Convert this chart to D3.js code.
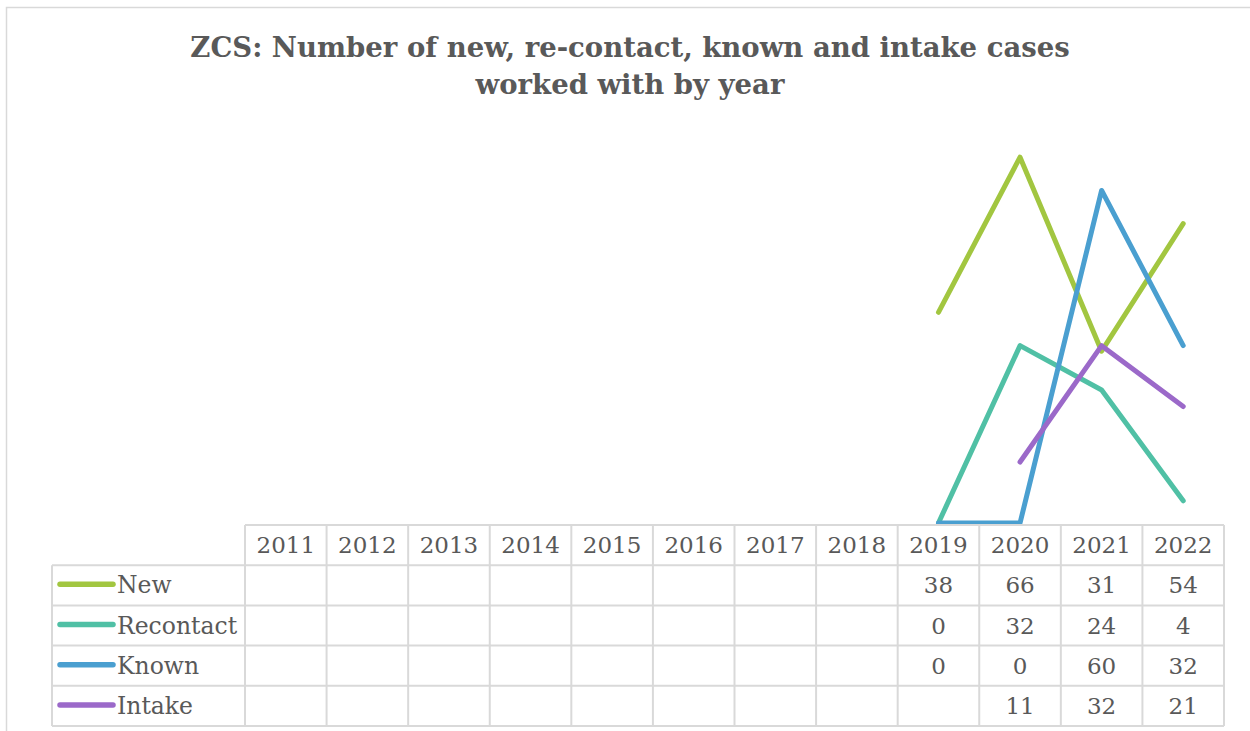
<!DOCTYPE html>
<html>
<head>
<meta charset="utf-8">
<script src="https://cdn.jsdelivr.net/npm/d3@7"></script>
<style>
  body { margin: 0; background: #fff; }
  svg text { font-family: "DejaVu Serif", serif; fill: #595959; }
</style>
</head>
<body>
<svg id="chart" width="1250" height="731"></svg>
<script>
// categories + series values
var years = ["2011","2012","2013","2014","2015","2016","2017","2018","2019","2020","2021","2022"];
var newCases  = [null,null,null,null,null,null,null,null,38,66,31,54];
var recontact = [null,null,null,null,null,null,null,null,0,32,24,4];
var known     = [null,null,null,null,null,null,null,null,0,0,60,32];
var intake    = [null,null,null,null,null,null,null,null,null,11,32,21];

var seriesNames  = ["New","Recontact","Known","Intake"];
var seriesColors = ["#a2c640","#50c0a5","#4a9fd0","#9b69c9"];
var series = [newCases, recontact, known, intake];

var svg = d3.select("#chart");

// chart frame
svg.append("path")
  .attr("d", "M6.5,731 V7.5 H1250")
  .attr("fill", "none")
  .attr("stroke", "#d9d9d9")
  .attr("stroke-width", 1.5);

// title
var title = svg.append("text")
  .attr("text-anchor", "middle")
  .style("font-weight", "bold")
  .style("font-size", "27.5px");
title.append("tspan").attr("x", 630).attr("y", 57)
  .text("ZCS: Number of new, re-contact, known and intake cases");
title.append("tspan").attr("x", 630).attr("y", 94)
  .text("worked with by year");

var x = d3.scaleBand().domain(years).range([245, 1224]);
var y = d3.scaleLinear().domain([0, 70]).range([523, 135]);

// lines
var line = d3.line()
  .defined(function(d){ return d != null; })
  .x(function(d, i){ return x(years[i]) + x.bandwidth() / 2; })
  .y(function(d){ return y(d); });

// draw in order so later series sit on top
svg.append("g").selectAll("path")
  .data(series)
  .join("path")
  .attr("d", line)
  .attr("fill", "none")
  .attr("stroke", function(d, i){ return seriesColors[i]; })
  .attr("stroke-width", 5)
  .attr("stroke-linecap", "round")
  .attr("stroke-linejoin", "round");

// data table
var tbl = svg.append("g");
var headTop = 525, rowH = 40.2, labelLeft = 52;
var gridColor = "#d9d9d9";
var tableBottom = headTop + rowH * 5;

// horizontal lines
tbl.append("line")
  .attr("x1", x.range()[0]).attr("x2", x.range()[1])
  .attr("y1", headTop).attr("y2", headTop)
  .attr("stroke", gridColor).attr("stroke-width", 2);
for (var r = 1; r <= 5; r++) {
  tbl.append("line")
    .attr("x1", labelLeft).attr("x2", x.range()[1])
    .attr("y1", headTop + rowH * r).attr("y2", headTop + rowH * r)
    .attr("stroke", gridColor).attr("stroke-width", 2);
}
// vertical lines
tbl.append("line")
  .attr("x1", labelLeft).attr("x2", labelLeft)
  .attr("y1", headTop + rowH).attr("y2", tableBottom)
  .attr("stroke", gridColor).attr("stroke-width", 2);
years.forEach(function(yr){
  tbl.append("line")
    .attr("x1", x(yr)).attr("x2", x(yr))
    .attr("y1", headTop).attr("y2", tableBottom)
    .attr("stroke", gridColor).attr("stroke-width", 2);
});
tbl.append("line")
  .attr("x1", x.range()[1]).attr("x2", x.range()[1])
  .attr("y1", headTop).attr("y2", tableBottom)
  .attr("stroke", gridColor).attr("stroke-width", 2);

// year headers
tbl.selectAll("text.yr")
  .data(years)
  .join("text")
  .attr("class", "yr")
  .attr("x", function(d){ return x(d) + x.bandwidth() / 2; })
  .attr("y", headTop + rowH / 2 + 8)
  .attr("text-anchor", "middle")
  .style("font-size", "23px")
  .text(function(d){ return d; });

// rows: legend key + values
series.forEach(function(s, si){
  var cy = headTop + rowH * (si + 1) + rowH / 2;
  tbl.append("line")
    .attr("x1", 60).attr("x2", 113)
    .attr("y1", cy - 1).attr("y2", cy - 1)
    .attr("stroke", seriesColors[si])
    .attr("stroke-width", 5.5)
    .attr("stroke-linecap", "round");
  tbl.append("text")
    .attr("x", 117).attr("y", cy + 8)
    .style("font-size", "23.5px")
    .text(seriesNames[si]);
  tbl.append("g").selectAll("text")
    .data(s)
    .join("text")
    .attr("x", function(d, i){ return x(years[i]) + x.bandwidth() / 2; })
    .attr("y", cy + 8)
    .attr("text-anchor", "middle")
    .style("font-size", "23px")
    .text(function(d){ return d == null ? "" : d; });
});
</script>
</body>
</html>
